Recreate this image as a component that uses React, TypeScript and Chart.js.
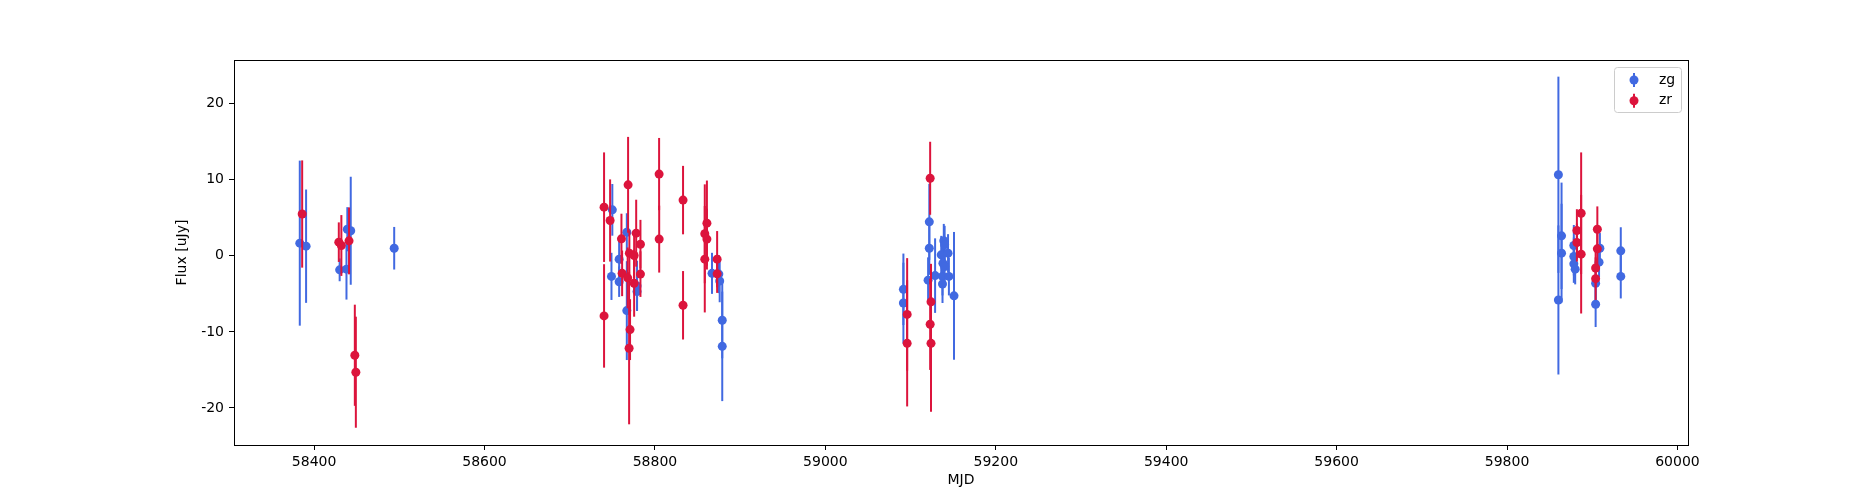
import { useEffect, useRef } from 'react';
import { Chart, registerables } from 'chart.js';

Chart.register(...registerables);

// zg band: MJD, flux [uJy], 1-sigma error
const zgMjd = [
  58383.2, 58390.6, 58430, 58438, 58439, 58443, 58494,
  58750, 58749, 58767, 58758, 58758, 58779, 58779, 58767,
  58867, 58875, 58876, 58879, 58879,
  59091.6, 59091.6, 59122, 59122, 59120.6, 59128.8, 59139, 59140, 59136, 59144,
  59138, 59140, 59137.5, 59145, 59137.5, 59151,
  59860.3, 59860.3, 59864, 59864, 59878.4, 59878.4, 59878.4, 59880, 59904, 59904,
  59909, 59908, 59933.5, 59933.5,
];
const zgFlux = [
  1.67, 1.27, -1.84, -1.75, 3.5, 3.3, 1.0,
  6.05, -2.7, 3.1, -0.44, -3.4, -3.95, -4.7, -7.2,
  -2.3, -2.4, -3.3, -8.47, -11.9,
  -4.4, -6.2, 4.47, 1.0, -3.2, -2.6, 2.0, 1.45, 0.13, 0.35,
  -0.97, -1.4, -2.7, -2.7, -3.7, -5.26,
  10.66, -5.8, 2.63, 0.35, 1.36, -0.09, -1.05, -1.75, -3.6, -6.36,
  1.0, -0.83, 0.66, -2.7,
];
const zgErr = [
  10.85, 7.45, 1.5, 4.0, 2.9, 7.1, 2.8,
  3.4, 3.1, 2.5, 3.0, 2.0, 3.3, 2.5, 6.5,
  2.7, 2.5, 2.8, 5.0, 7.2,
  4.7, 5.3, 5.0, 3.5, 3.0, 4.9, 2.2, 2.5, 2.5, 2.5,
  2.5, 2.5, 2.5, 2.5, 2.5, 8.4,
  12.9, 9.8, 7.0, 6.5, 2.7, 2.5, 2.5, 2.0, 2.5, 3.0,
  2.0, 2.0, 3.1, 2.9,
];

// zr band
const zrMjd = [
  58386, 58429, 58432, 58441, 58447.8, 58449,
  58740.3, 58740.3, 58747.4, 58768.5, 58760.7, 58778, 58783, 58770, 58775.6, 58783,
  58761.5, 58768, 58775.6, 58770.8, 58769.7, 58804.9, 58805,
  58833, 58833, 58861, 58858.5, 58861, 58858.5, 58873, 58873,
  59123, 59096, 59096, 59124, 59123, 59124,
  59882, 59882, 59887, 59887, 59906, 59906, 59904, 59904,
];
const zrFlux = [
  5.5, 1.8, 1.36, 1.97, -13.07, -15.3,
  6.4, -7.9, 4.65, 9.34, 2.24, 2.98, 1.53, 0.35, 0.05, -2.4,
  -2.3, -2.9, -3.6, -9.7, -12.15, 10.75, 2.2,
  7.33, -6.5, 4.3, 2.9, 2.2, -0.44, -0.44, -2.37,
  10.2, -7.7, -11.5, -6.05, -9.0, -11.5,
  3.33, 1.75, 5.6, 0.22, 3.5, 0.92, -1.6, -3.0,
];
const zrErr = [
  7.05, 2.6, 4.0, 4.4, 6.65, 7.3,
  7.2, 6.8, 5.4, 6.3, 3.3, 4.4, 3.2, 3.0, 3.0, 3.0,
  3.0, 4.0, 4.4, 4.0, 10.0, 4.75, 4.4,
  4.5, 4.5, 5.6, 6.5, 4.0, 7.0, 3.7, 2.5,
  4.8, 7.4, 8.3, 5.0, 6.0, 9.0,
  2.8, 2.5, 8.0, 7.8, 3.0, 2.5, 2.5, 2.8,
];

const xTicks = [58400, 58600, 58800, 59000, 59200, 59400, 59600, 59800, 60000];
const yTicks = [-20, -10, 0, 10, 20];

const series = [
  { label: 'zg', color: '#4169e1', mjd: zgMjd, flux: zgFlux, err: zgErr },
  { label: 'zr', color: '#dc143c', mjd: zrMjd, flux: zrFlux, err: zrErr },
];

const FONT = "'DejaVu Sans', sans-serif";

// vertical error bars drawn under each dataset's markers
const errorBars = {
  id: 'errorBars',
  beforeDatasetDraw(chart: any, args: any) {
    const s = series[args.index];
    if (!s) return;
    const { ctx, chartArea, scales } = chart;
    ctx.save();
    ctx.beginPath();
    ctx.rect(chartArea.left, chartArea.top, chartArea.right - chartArea.left, chartArea.bottom - chartArea.top);
    ctx.clip();
    ctx.strokeStyle = s.color;
    ctx.lineWidth = 2;
    s.mjd.forEach((m, i) => {
      const x = scales.x.getPixelForValue(m);
      ctx.beginPath();
      ctx.moveTo(x, scales.y.getPixelForValue(s.flux[i] - s.err[i]));
      ctx.lineTo(x, scales.y.getPixelForValue(s.flux[i] + s.err[i]));
      ctx.stroke();
    });
    ctx.restore();
  },
};

// axes frame + matplotlib-like legend in the upper right
const frameAndLegend = {
  id: 'frameAndLegend',
  afterDraw(chart: any) {
    const { ctx, chartArea } = chart;
    ctx.save();
    ctx.strokeStyle = '#000';
    ctx.lineWidth = 1;
    ctx.strokeRect(
      Math.round(chartArea.left) + 0.5,
      Math.round(chartArea.top) + 0.5,
      Math.round(chartArea.right - chartArea.left),
      Math.round(chartArea.bottom - chartArea.top)
    );

    const w = 67, h = 45;
    const bx = chartArea.right - 7 - w;
    const by = chartArea.top + 7;
    ctx.beginPath();
    ctx.roundRect(bx + 0.5, by + 0.5, w, h, 3);
    ctx.fillStyle = 'rgba(255,255,255,0.8)';
    ctx.fill();
    ctx.strokeStyle = '#cccccc';
    ctx.stroke();

    ctx.font = `14px ${FONT}`;
    ctx.textBaseline = 'middle';
    ctx.textAlign = 'left';
    series.forEach((s, i) => {
      const cy = by + 13 + i * 20.7;
      const cx = bx + 20;
      ctx.strokeStyle = s.color;
      ctx.lineWidth = 2;
      ctx.beginPath();
      ctx.moveTo(cx, cy - 7);
      ctx.lineTo(cx, cy + 7);
      ctx.stroke();
      ctx.fillStyle = s.color;
      ctx.beginPath();
      ctx.arc(cx, cy, 4.5, 0, Math.PI * 2);
      ctx.fill();
      ctx.fillStyle = '#000';
      ctx.fillText(s.label, bx + 45, cy);
    });
    ctx.restore();
  },
};

export default function App() {
  const canvasRef = useRef<HTMLCanvasElement>(null);
  const chartRef = useRef<Chart | null>(null);

  useEffect(() => {
    document.body.style.margin = '0';
    if (!canvasRef.current) return;
    if (chartRef.current) chartRef.current.destroy();

    const tickGrid = {
      drawOnChartArea: false,
      drawTicks: true,
      tickLength: 5,
      tickColor: '#000',
      color: '#000',
    };

    chartRef.current = new Chart(canvasRef.current, {
      type: 'scatter',
      data: {
        datasets: series.map((s, i) => ({
          label: s.label,
          data: s.mjd.map((m, j) => ({ x: m, y: s.flux[j] })),
          backgroundColor: s.color,
          borderColor: s.color,
          pointRadius: 4.5,
          pointBorderWidth: 0,
          order: series.length - i,
        })),
      },
      options: {
        animation: false,
        responsive: true,
        maintainAspectRatio: false,
        layout: { padding: { left: 174, top: 60, right: 187, bottom: 0 } },
        font: { family: FONT, size: 14 },
        plugins: {
          legend: { display: false },
          tooltip: { enabled: false },
        },
        scales: {
          x: {
            type: 'linear',
            min: 58306,
            max: 60012.4,
            grid: tickGrid,
            border: { display: false },
            afterFit: (scale: any) => { scale.height = 55; },
            afterBuildTicks: (scale: any) => { scale.ticks = xTicks.map(v => ({ value: v })); },
            ticks: {
              padding: 3.5,
              color: '#000',
              maxRotation: 0,
              font: { family: FONT, size: 14 },
              callback: (v: any) => String(v),
            },
            title: {
              display: true,
              text: 'MJD',
              color: '#000',
              font: { family: FONT, size: 14 },
              padding: { top: 0, bottom: 11 },
            },
          },
          y: {
            type: 'linear',
            min: -24.87,
            max: 25.75,
            grid: tickGrid,
            border: { display: false },
            afterFit: (scale: any) => { scale.width = 60; },
            afterBuildTicks: (scale: any) => { scale.ticks = yTicks.map(v => ({ value: v })); },
            ticks: {
              padding: 5,
              color: '#000',
              font: { family: FONT, size: 14 },
              callback: (v: any) => String(v),
            },
            title: {
              display: true,
              text: 'Flux [uJy]',
              color: '#000',
              font: { family: FONT, size: 14 },
              padding: { top: 0, bottom: 0 },
            },
          },
        },
      },
      plugins: [errorBars, frameAndLegend],
    } as any);

    return () => {
      if (chartRef.current) {
        chartRef.current.destroy();
        chartRef.current = null;
      }
    };
  }, []);

  return (
    <div style={{ width: 1875, height: 500, position: 'relative' }}>
      <canvas ref={canvasRef} />
    </div>
  );
}
